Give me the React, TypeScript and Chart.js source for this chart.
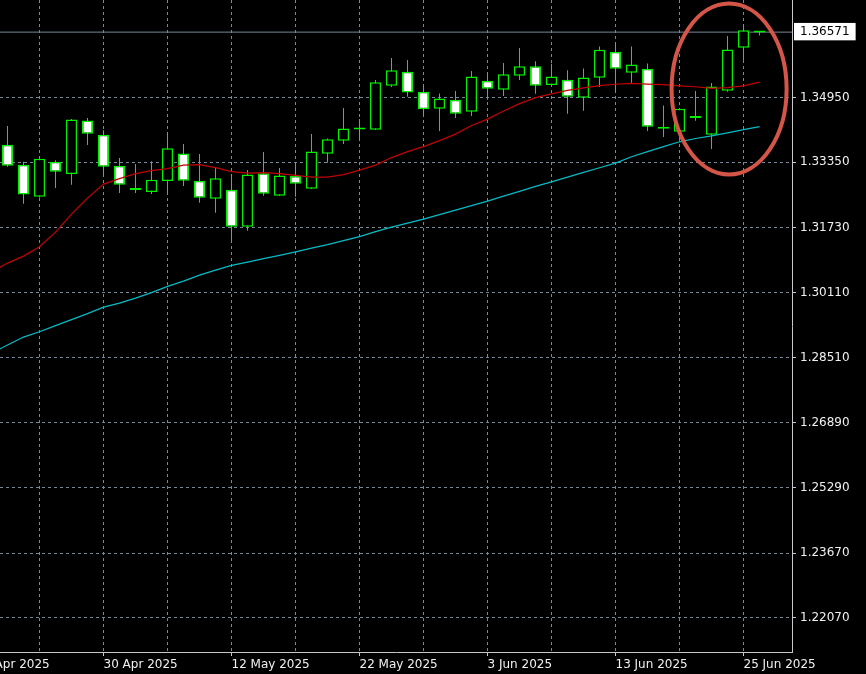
import React, { useEffect, useRef } from 'react';
import { Chart, registerables } from 'chart.js';

Chart.register(...registerables);

// ---- data (daily candles) ----
const DATES = [
  '22 Apr', '23 Apr', '24 Apr', '25 Apr', '28 Apr', '29 Apr', '30 Apr', '1 May', '2 May', '5 May',
  '6 May', '7 May', '8 May', '9 May', '12 May', '13 May', '14 May', '15 May', '16 May', '19 May',
  '20 May', '21 May', '22 May', '23 May', '26 May', '27 May', '28 May', '29 May', '30 May', '2 Jun',
  '3 Jun', '4 Jun', '5 Jun', '6 Jun', '9 Jun', '10 Jun', '11 Jun', '12 Jun', '13 Jun', '16 Jun',
  '17 Jun', '18 Jun', '19 Jun', '20 Jun', '23 Jun', '24 Jun', '25 Jun', '26 Jun',
];
const OPEN = [
  1.33781, 1.33286, 1.32493, 1.33360, 1.33055, 1.34385, 1.34029, 1.33261, 1.32659, 1.32609,
  1.32882, 1.33568, 1.32889, 1.32443, 1.32666, 1.31750, 1.33073, 1.32518, 1.33006, 1.32691,
  1.33558, 1.33880, 1.34157, 1.34152, 1.35242, 1.35589, 1.35094, 1.34673, 1.34896, 1.34598,
  1.35366, 1.35143, 1.35490, 1.35723, 1.35260, 1.35391, 1.34945, 1.35440, 1.36084, 1.35564,
  1.35663, 1.34227, 1.34103, 1.34484, 1.34029, 1.35118, 1.36184, 1.36565,
];
const HIGH = [
  1.34244, 1.33360, 1.33501, 1.33395, 1.34417, 1.34442, 1.34138, 1.33451, 1.33303, 1.33370,
  1.34063, 1.33798, 1.33551, 1.33221, 1.33055, 1.33154, 1.33600, 1.33204, 1.33335, 1.34046,
  1.33939, 1.34690, 1.34417, 1.35383, 1.35928, 1.35879, 1.35242, 1.35054, 1.35111, 1.35606,
  1.35574, 1.35805, 1.36176, 1.35847, 1.35787, 1.35624, 1.35673, 1.36218, 1.36317, 1.36218,
  1.35797, 1.34757, 1.34680, 1.35111, 1.35309, 1.36473, 1.36763, 1.36580,
];
const LOW = [
  1.33236, 1.32320, 1.32473, 1.32708, 1.32790, 1.33773, 1.32988, 1.32585, 1.32585, 1.32560,
  1.32552, 1.32758, 1.32344, 1.32097, 1.31354, 1.31651, 1.32518, 1.32510, 1.32493, 1.32684,
  1.33335, 1.33798, 1.33873, 1.34145, 1.35210, 1.34970, 1.34475, 1.34120, 1.34442, 1.34492,
  1.34896, 1.34987, 1.35383, 1.35044, 1.35247, 1.34549, 1.34623, 1.35210, 1.35069, 1.35302,
  1.34120, 1.33972, 1.33947, 1.34375, 1.33674, 1.35094, 1.35854, 1.36490,
];
const CLOSE = [
  1.33261, 1.32552, 1.33434, 1.33112, 1.34410, 1.34053, 1.33236, 1.32790, 1.32671, 1.32914,
  1.33692, 1.32889, 1.32468, 1.32949, 1.31750, 1.33048, 1.32567, 1.33023, 1.32815, 1.33617,
  1.33915, 1.34187, 1.34162, 1.35327, 1.35624, 1.35079, 1.34658, 1.34930, 1.34549, 1.35475,
  1.35168, 1.35525, 1.35723, 1.35242, 1.35475, 1.34970, 1.35450, 1.36134, 1.35663, 1.35772,
  1.34227, 1.34177, 1.34673, 1.34442, 1.35227, 1.36144, 1.36615, 1.36571,
];
// moving averages, first value belongs to the bar before the first visible one
const MA_START = -1;
const MA_FAST = [
  1.30628, 1.30851, 1.31024, 1.31254, 1.31619, 1.32064, 1.32461, 1.32808, 1.32944, 1.33068, 1.33142,
  1.33191, 1.33278, 1.33291, 1.33216, 1.33117, 1.33080, 1.33092, 1.33068, 1.33023, 1.32981,
  1.32981, 1.33043, 1.33154, 1.33278, 1.33464, 1.33613, 1.33736, 1.33885, 1.34046, 1.34257,
  1.34417, 1.34616, 1.34801, 1.34950, 1.35042, 1.35128, 1.35190, 1.35245, 1.35280, 1.35302,
  1.35284, 1.35270, 1.35242, 1.35218, 1.35180, 1.35198, 1.35240, 1.35334,
];
const MA_SLOW = [
  1.28622, 1.28820, 1.29018, 1.29149, 1.29303, 1.29451, 1.29600, 1.29761, 1.29860, 1.29984, 1.30120,
  1.30274, 1.30405, 1.30553, 1.30677, 1.30794, 1.30876, 1.30962, 1.31041, 1.31128, 1.31222,
  1.31309, 1.31408, 1.31507, 1.31631, 1.31742, 1.31841, 1.31941, 1.32052, 1.32163, 1.32275,
  1.32386, 1.32510, 1.32627, 1.32751, 1.32864, 1.32981, 1.33097, 1.33211, 1.33328, 1.33484,
  1.33613, 1.33736, 1.33855, 1.33937, 1.34001, 1.34078, 1.34155, 1.34232,
];
const BID = 1.36571;
const Y_TICKS = [1.34950, 1.33350, 1.31730, 1.30110, 1.28510, 1.26890, 1.25290, 1.23670, 1.22070];
const X_GRID_BARS = [-2, 2, 6, 10, 14, 18, 22, 26, 30, 34, 38, 42, 46];
const X_LABEL_BARS = [-2, 6, 14, 22, 30, 38, 46];
const X_LABELS = ['18 Apr 2025', '30 Apr 2025', '12 May 2025', '22 May 2025', '3 Jun 2025', '13 Jun 2025', '25 Jun 2025'];

// ---- view ----
const X_MIN = -0.46875;
const X_MAX = 49.03125;
const Y_MIN = 1.21218;
const Y_MAX = 1.37367;
const ELLIPSE = { bar: 45.1, price: 1.35163, rx: 57.5, ry: 85.5 };

const GREEN = '#00f000';
const GRID = '#778899';
const AXIS = '#c8c8c8';
const TEXT = '#f0f0f0';
const FONT = { family: 'DejaVu Sans', size: 12 };

const ellipsePlugin = {
  id: 'circleNote',
  afterDraw(chart: any) {
    const { ctx, scales } = chart;
    const cx = scales.x.getPixelForValue(ELLIPSE.bar);
    const cy = scales.y.getPixelForValue(ELLIPSE.price);
    ctx.save();
    ctx.beginPath();
    ctx.ellipse(cx, cy, ELLIPSE.rx, ELLIPSE.ry, 0, 0, Math.PI * 2);
    ctx.strokeStyle = 'rgb(212, 86, 72)';
    ctx.lineWidth = 4;
    ctx.stroke();
    ctx.restore();
  },
};

export default function App() {
  const ref = useRef<HTMLCanvasElement>(null);

  useEffect(() => {
    const canvas = ref.current;
    if (!canvas) return;

    const bodies = DATES.map((_, i) => ({ x: i, y: [OPEN[i], CLOSE[i]] }));
    const wicks = DATES.map((_, i) => ({ x: i, y: [LOW[i], HIGH[i]] }));
    const fills = DATES.map((_, i) => (CLOSE[i] >= OPEN[i] ? '#000000' : '#ffffff'));
    const fast = MA_FAST.map((v, k) => ({ x: MA_START + k, y: v }));
    const slow = MA_SLOW.map((v, k) => ({ x: MA_START + k, y: v }));
    const bidLine = [{ x: X_MIN - 1, y: BID }, { x: X_MAX + 1, y: BID }];

    const chart = new Chart(canvas, {
      type: 'bar',
      data: {
        datasets: [
          {
            type: 'line',
            label: 'MA fast',
            data: fast as any,
            borderColor: '#c40000',
            borderWidth: 1.2,
            pointRadius: 0,
            tension: 0,
            order: 0,
          } as any,
          {
            type: 'line',
            label: 'MA slow',
            data: slow as any,
            borderColor: '#00bcc6',
            borderWidth: 1.2,
            pointRadius: 0,
            tension: 0,
            order: 0,
          } as any,
          {
            label: 'Body',
            data: bodies as any,
            backgroundColor: fills,
            borderColor: GREEN,
            borderWidth: 1.5,
            borderSkipped: false,
            barThickness: 11,
            minBarLength: 2,
            inflateAmount: 0,
            grouped: false,
            order: 1,
          } as any,
          {
            label: 'Wick',
            data: wicks as any,
            backgroundColor: GREEN,
            borderWidth: 0,
            barThickness: 1,
            inflateAmount: 0,
            grouped: false,
            order: 2,
          } as any,
          {
            type: 'line',
            label: 'Bid',
            data: bidLine as any,
            borderColor: GRID,
            borderWidth: 1,
            pointRadius: 0,
            order: 3,
          } as any,
        ],
      },
      options: {
        responsive: false,
        animation: false,
        devicePixelRatio: 1,
        layout: { padding: 0, autoPadding: false } as any,
        plugins: {
          legend: { display: false },
          tooltip: { enabled: false },
        },
        scales: {
          x: {
            type: 'linear',
            min: X_MIN,
            max: X_MAX,
            offset: false,
            afterBuildTicks: (scale: any) => {
              scale.ticks = X_GRID_BARS.map((v) => ({ value: v }));
            },
            afterFit: (scale: any) => {
              scale.height = 22;
              scale.paddingLeft = 0;
              scale.paddingRight = 0;
            },
            ticks: {
              autoSkip: false,
              maxRotation: 0,
              minRotation: 0,
              align: 'start',
              padding: 2,
              color: TEXT,
              font: FONT,
              callback: (v: any) => {
                const k = X_LABEL_BARS.indexOf(Number(v));
                return k >= 0 ? X_LABELS[k] : '';
              },
            },
            grid: {
              offset: false,
              color: GRID,
              lineWidth: 1,
              drawTicks: true,
              tickLength: 4,
              tickBorderDash: [],
              tickColor: (ctx: any) =>
                ctx.tick && X_LABEL_BARS.indexOf(ctx.tick.value) >= 0 ? AXIS : 'rgba(0,0,0,0)',
            },
            border: { display: true, color: AXIS, width: 1, dash: [3, 3] },
          } as any,
          y: {
            type: 'linear',
            position: 'right',
            min: Y_MIN,
            max: Y_MAX,
            afterBuildTicks: (scale: any) => {
              scale.ticks = [...Y_TICKS, BID].map((v) => ({ value: v }));
            },
            afterFit: (scale: any) => {
              scale.width = 74;
              scale.paddingTop = 0;
              scale.paddingBottom = 0;
            },
            ticks: {
              padding: 4,
              font: FONT,
              color: (ctx: any) => (ctx.tick && ctx.tick.value === BID ? '#000000' : TEXT),
              callback: (v: any) => Number(v).toFixed(5),
              showLabelBackdrop: (ctx: any) => !!(ctx.tick && ctx.tick.value === BID),
              backdropColor: '#ffffff',
              backdropPadding: { left: 6, right: 6, top: 2, bottom: 1 },
            },
            grid: {
              offset: false,
              color: (ctx: any) => (ctx.tick && ctx.tick.value === BID ? 'rgba(0,0,0,0)' : GRID),
              lineWidth: 1,
              drawTicks: true,
              tickLength: 4,
              tickBorderDash: [],
              tickColor: (ctx: any) => (ctx.tick && ctx.tick.value === BID ? 'rgba(0,0,0,0)' : AXIS),
            },
            border: { display: true, color: AXIS, width: 1, dash: [3, 3] },
          } as any,
        },
      },
      plugins: [ellipsePlugin],
    });

    return () => chart.destroy();
  }, []);

  return (
    <div style={{ position: 'fixed', left: 0, top: 0, width: 866, height: 674, background: '#000' }}>
      <canvas ref={ref} width={866} height={674} style={{ display: 'block', width: 866, height: 674 }} />
    </div>
  );
}
